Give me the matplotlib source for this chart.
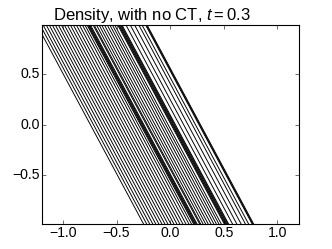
import numpy as np
import matplotlib
matplotlib.use("Agg")
import matplotlib.pyplot as plt

plt.style.use("classic")
plt.rcParams["font.family"] = ["Liberation Sans", "DejaVu Sans"]
plt.rcParams["mathtext.fontset"] = "custom"
plt.rcParams["mathtext.rm"] = "Liberation Sans"
plt.rcParams["mathtext.it"] = "Liberation Sans:italic"
plt.rcParams["mathtext.bf"] = "Liberation Sans:bold"

# contour levels of the field x + 0.5*y (the density depends only on this)
thin_left = [-0.745, -0.716, -0.688, -0.659, -0.631, -0.602, -0.574, -0.546,
             -0.518, -0.490, -0.462, -0.434, -0.406, -0.378, -0.350, -0.322, -0.298]
cluster_1 = [-0.278, -0.270, -0.262, -0.254, -0.246]
middle = [-0.222, -0.212, -0.190, -0.166, -0.142, -0.116, -0.090, -0.066, -0.042, -0.020]
cluster_2 = [0.008, 0.016, 0.024, 0.032, 0.040, 0.048]
right = [0.085, 0.125, 0.165, 0.205, 0.235]
cluster_3 = [0.268, 0.275, 0.282]

levels = sorted(thin_left + cluster_1 + middle + cluster_2 + right + cluster_3)
slope = 0.5  # level = x + slope * y

title = r"Density, with no CT, $t = 0.3$"
xlim = (-1.2, 1.2)
ylim = (-0.995, 0.995)

fig = plt.figure(figsize=(332 / 80, 249 / 80), dpi=80)
ax = fig.add_subplot(111)
yy = np.array([-1.2, 1.2])
for c in levels:
    ax.plot(c - slope * yy, yy, color="k", lw=0.85)
ax.set_xlim(*xlim)
ax.set_ylim(*ylim)
ax.tick_params(labelsize=12.6, pad=1.5)
ax.set_title(title, fontsize=15, loc="left", x=0.0435, pad=4)
fig.savefig("out.png", dpi=80, facecolor="white")
